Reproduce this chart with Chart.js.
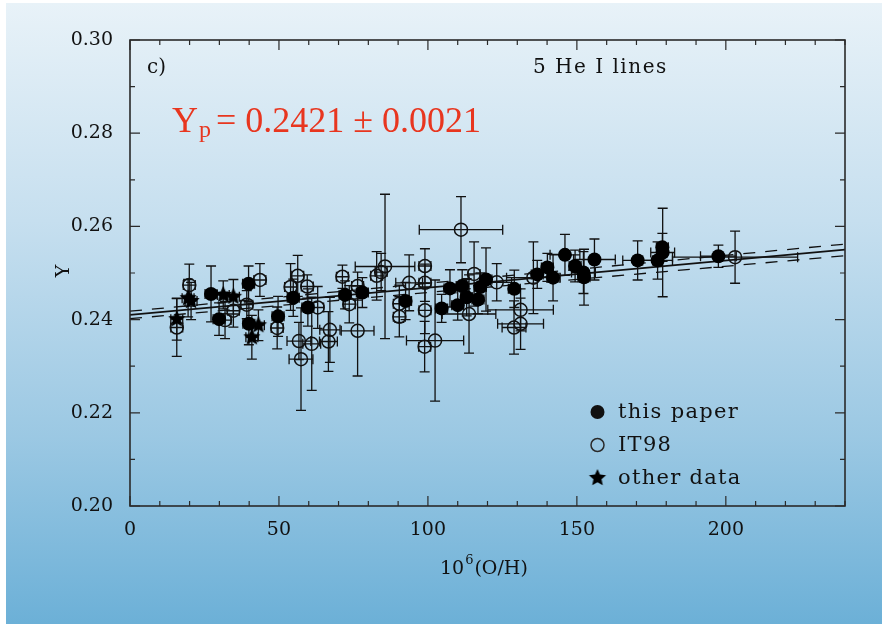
<!DOCTYPE html>
<html>
<head>
<meta charset="utf-8">
<script src="https://cdn.jsdelivr.net/npm/chart.js@4.4.1/dist/chart.umd.min.js"></script>
<style>
  html, body { margin: 0; padding: 0; background: #fff; }
  #heChart { display: block; }
</style>
</head>
<body>
<canvas id="heChart" width="882" height="624"></canvas>
<script>
// this paper
const paperX = [27.2, 29.9, 39.8, 39.9, 49.7, 54.8, 59.7, 72.2, 78.0, 92.5, 104.6, 107.4, 110.0, 111.5, 113.0, 116.8,
  117.6, 119.5, 129.0, 136.7, 140.1, 142.0, 146.0, 149.4, 152.2, 152.4, 155.9, 170.4, 177.1, 178.7, 178.8, 197.5];
const paperY = [0.2455, 0.2401, 0.2477, 0.2391, 0.2407, 0.2447, 0.2426, 0.2453, 0.2458, 0.2440, 0.2424, 0.2467, 0.2431, 0.2472, 0.2448, 0.2443,
  0.2470, 0.2486, 0.2466, 0.2497, 0.2512, 0.2490, 0.2539, 0.2515, 0.2501, 0.2491, 0.2529, 0.2527, 0.2527, 0.2555, 0.2544, 0.2536];
const paperYErr = [0.0060, 0.0035, 0.0038, 0.0045, 0.0043, 0.0040, 0.0040, 0.0030, 0.0032, 0.0040, 0.0030, 0.0040, 0.0032, 0.0035, 0.0040, 0.0030,
  0.0030, 0.0068, 0.0040, 0.0030, 0.0030, 0.0050, 0.0044, 0.0034, 0.0045, 0.0060, 0.0044, 0.0042, 0.0040, 0.0030, 0.0095, 0.0024];
const paperXErr = [2, 2, 2, 2, 2, 2, 2, 2, 2, 2, 2, 2, 2, 2, 2, 2,
  2, 2, 2, 2, 2, 2, 5, 2, 4, 2, 7, 5, 5, 2, 4, 6];

// IT98
const it98X = [15.7, 19.9, 31.9, 34.7, 39.2, 43.6, 49.4, 53.9, 56.3, 59.5, 56.7, 57.4, 61.0, 63.0, 67.1, 66.6, 71.3, 73.6, 76.4, 76.4,
  82.8, 84.3, 85.6, 90.4, 90.4, 93.7, 99.0, 99.0, 99.0, 98.9, 102.4, 111.1, 115.5, 113.8, 123.1, 131.1, 131.1, 128.9, 135.4, 203.1];
const it98Y = [0.2383, 0.2474, 0.2399, 0.2419, 0.2432, 0.2485, 0.2382, 0.2470, 0.2494, 0.2471, 0.2354, 0.2315, 0.2348, 0.2426, 0.2378, 0.2353, 0.2492, 0.2433, 0.2472, 0.2376,
  0.2494, 0.2502, 0.2514, 0.2434, 0.2406, 0.2479, 0.2515, 0.2479, 0.2420, 0.2342, 0.2355, 0.2593, 0.2498, 0.2412, 0.2480, 0.2421, 0.2391, 0.2383, 0.2490, 0.2534];
const it98YErr = [0.0062, 0.0045, 0.0040, 0.0035, 0.0030, 0.0035, 0.0045, 0.0050, 0.0044, 0.0025, 0.0040, 0.0110, 0.0100, 0.0045, 0.0070, 0.0064, 0.0025, 0.0040, 0.0030, 0.0097,
  0.0052, 0.0040, 0.0155, 0.0040, 0.0043, 0.0060, 0.0037, 0.0040, 0.0050, 0.0054, 0.0130, 0.0071, 0.0069, 0.0084, 0.0040, 0.0045, 0.0055, 0.0057, 0.0077, 0.0056];
const it98XErr = [2, 2, 2, 2, 2, 2, 2, 2, 2, 2, 4, 4, 3, 2, 3.4, 3, 2, 2, 2, 5.5,
  2, 2, 10, 2, 2, 4.5, 2, 2, 2, 2, 9.6, 14, 2, 9, 5, 11, 7.7, 4, 9, 21];

// other data
const otherX = [15.7, 19.5, 20.5, 31.3, 34.7, 40.9, 43.1];
const otherY = [0.2401, 0.2446, 0.2440, 0.2453, 0.2449, 0.2362, 0.2388];
const otherYErr = [0.0045, 0.0040, 0.0040, 0.0030, 0.0037, 0.0047, 0.0033];
const otherXErr = [2, 2, 2, 2, 2, 2, 2];

// regression lines
const fitX = [0, 240];
const fitY = [0.2410, 0.2550];
const fitUpperY = [0.2418, 0.2562];
const fitLowerY = [0.2402, 0.2537];

const xTickVals = [0, 50, 100, 150, 200];
const yTickVals = [0.20, 0.22, 0.24, 0.26, 0.28, 0.30];

const serif = "'DejaVu Serif', serif";

function toPoints(xs, ys, xe, ye) {
  return xs.map((x, i) => ({ x: x, y: ys[i], xe: xe ? xe[i] : 0, ye: ye ? ye[i] : 0 }));
}

// filled five point star used as point marker
function makeStar(r) {
  const c = document.createElement('canvas');
  const s = Math.ceil(r * 2 + 2);
  c.width = c.height = s;
  const g = c.getContext('2d');
  g.beginPath();
  for (let k = 0; k < 10; k++) {
    const rad = k % 2 ? r * 0.47 : r;
    const ang = -Math.PI / 2 + k * Math.PI / 5;
    g.lineTo(s / 2 + rad * Math.cos(ang), s / 2 + rad * Math.sin(ang));
  }
  g.closePath();
  g.fillStyle = '#000';
  g.fill();
  return c;
}
const starImg = makeStar(9);

// background: white margin and blue gradient panel
const backdrop = {
  id: 'backdrop',
  beforeDraw(chart) {
    const ctx = chart.ctx;
    ctx.save();
    ctx.fillStyle = '#fff';
    ctx.fillRect(0, 0, chart.width, chart.height);
    const g = ctx.createLinearGradient(0, 3, 0, chart.height);
    g.addColorStop(0, '#e8f2f8');
    g.addColorStop(0.35, '#c6dfef');
    g.addColorStop(0.7, '#9bc8e3');
    g.addColorStop(1, '#6cb0d7');
    ctx.fillStyle = g;
    ctx.fillRect(6, 3, chart.width - 6, chart.height - 3);
    ctx.restore();
  }
};

// x and y error bars with caps
const errorBars = {
  id: 'errorBars',
  beforeDatasetsDraw(chart) {
    const ctx = chart.ctx, xs = chart.scales.x, ys = chart.scales.y;
    ctx.save();
    ctx.strokeStyle = '#111';
    ctx.lineWidth = 1.3;
    const cap = 5;
    chart.data.datasets.forEach(ds => {
      if (!ds.errorBars) return;
      ds.data.forEach(p => {
        const px = xs.getPixelForValue(p.x), py = ys.getPixelForValue(p.y);
        ctx.beginPath();
        if (p.ye) {
          const t = ys.getPixelForValue(p.y + p.ye), b = ys.getPixelForValue(p.y - p.ye);
          ctx.moveTo(px, t); ctx.lineTo(px, b);
          ctx.moveTo(px - cap, t); ctx.lineTo(px + cap, t);
          ctx.moveTo(px - cap, b); ctx.lineTo(px + cap, b);
        }
        if (p.xe) {
          const l = xs.getPixelForValue(p.x - p.xe), r = xs.getPixelForValue(p.x + p.xe);
          ctx.moveTo(l, py); ctx.lineTo(r, py);
          ctx.moveTo(l, py - cap); ctx.lineTo(l, py + cap);
          ctx.moveTo(r, py - cap); ctx.lineTo(r, py + cap);
        }
        ctx.stroke();
      });
    });
    ctx.restore();
  }
};

// frame, inward ticks on all sides, titles, legend and annotation
const decorations = {
  id: 'decorations',
  afterDraw(chart) {
    const ctx = chart.ctx, xs = chart.scales.x, ys = chart.scales.y, a = chart.chartArea;
    ctx.save();
    ctx.strokeStyle = '#2a2a2a';
    ctx.lineWidth = 1.6;
    ctx.strokeRect(a.left, a.top, a.right - a.left, a.bottom - a.top);

    ctx.lineWidth = 1.2;
    ctx.beginPath();
    for (let v = 0; v <= 240; v += 10) {
      const p = xs.getPixelForValue(v);
      const len = v % 50 === 0 ? 10 : 5;
      ctx.moveTo(p, a.bottom); ctx.lineTo(p, a.bottom - len);
      ctx.moveTo(p, a.top); ctx.lineTo(p, a.top + len);
    }
    for (let k = 0; k <= 10; k++) {
      const p = ys.getPixelForValue(0.20 + k * 0.01);
      const len = k % 2 === 0 ? 10 : 5;
      ctx.moveTo(a.left, p); ctx.lineTo(a.left + len, p);
      ctx.moveTo(a.right, p); ctx.lineTo(a.right - len, p);
    }
    ctx.stroke();

    ctx.fillStyle = '#111';
    ctx.textBaseline = 'alphabetic';
    ctx.textAlign = 'left';

    // x title: 10^6(O/H)
    ctx.font = '19px ' + serif;
    let x0 = 440;
    ctx.fillText('10', x0, 574);
    x0 += ctx.measureText('10').width + 1;
    ctx.font = '13px ' + serif;
    ctx.fillText('6', x0, 564);
    x0 += ctx.measureText('6').width + 1;
    ctx.font = '19px ' + serif;
    ctx.fillText('(O/H)', x0, 574);

    // y title
    ctx.save();
    ctx.translate(69, 271);
    ctx.rotate(-Math.PI / 2);
    ctx.textAlign = 'center';
    ctx.fillText('Y', 0, 0);
    ctx.restore();

    // panel labels
    ctx.font = '20px ' + serif;
    ctx.fillText('c)', 147, 73);
    ctx.letterSpacing = '1.5px';
    ctx.fillText('5 He I lines', 533, 73);
    ctx.letterSpacing = '0px';

    // legend
    ctx.font = '21px ' + serif;
    ctx.letterSpacing = '1.3px';
    ctx.fillText('this paper', 618, 418);
    ctx.fillText('IT98', 618, 451);
    ctx.fillText('other data', 618, 484);
    ctx.letterSpacing = '0px';
    ctx.beginPath();
    ctx.arc(597.5, 412, 7, 0, Math.PI * 2);
    ctx.fill();
    ctx.beginPath();
    ctx.lineWidth = 1.5;
    ctx.arc(597.5, 445, 6.5, 0, Math.PI * 2);
    ctx.stroke();
    ctx.drawImage(starImg, 597.5 - starImg.width / 2, 478 - starImg.height / 2);

    // fitted primordial helium value
    ctx.fillStyle = '#e8361f';
    ctx.font = "36px 'Liberation Serif', serif";
    let rx = 172;
    ctx.fillText('Y', rx, 132);
    rx += ctx.measureText('Y').width + 1;
    ctx.font = "24px 'Liberation Serif', serif";
    ctx.fillText('p', rx, 137);
    rx += ctx.measureText('p').width + 5;
    ctx.font = "36px 'Liberation Serif', serif";
    ctx.fillText('= 0.2421 \u00b1 0.0021', rx, 132);
    ctx.restore();
  }
};

const chart = new Chart(document.getElementById('heChart'), {
  type: 'scatter',
  data: {
    datasets: [
      {
        label: 'fit',
        type: 'line',
        data: toPoints(fitX, fitY),
        borderColor: '#111',
        borderWidth: 1.7,
        pointRadius: 0,
        order: 5
      },
      {
        label: 'fit upper',
        type: 'line',
        data: toPoints(fitX, fitUpperY),
        borderColor: '#111',
        borderWidth: 1.3,
        borderDash: [12, 10],
        pointRadius: 0,
        order: 5
      },
      {
        label: 'fit lower',
        type: 'line',
        data: toPoints(fitX, fitLowerY),
        borderColor: '#111',
        borderWidth: 1.3,
        borderDash: [12, 10],
        pointRadius: 0,
        order: 5
      },
      {
        label: 'IT98',
        data: toPoints(it98X, it98Y, it98XErr, it98YErr),
        errorBars: true,
        pointStyle: 'circle',
        pointRadius: 6.5,
        borderWidth: 1.5,
        borderColor: '#111',
        backgroundColor: 'rgba(0,0,0,0)',
        order: 2
      },
      {
        label: 'other data',
        data: toPoints(otherX, otherY, otherXErr, otherYErr),
        errorBars: true,
        pointStyle: starImg,
        order: 1
      },
      {
        label: 'this paper',
        data: toPoints(paperX, paperY, paperXErr, paperYErr),
        errorBars: true,
        pointStyle: 'circle',
        pointRadius: 7,
        borderWidth: 0,
        backgroundColor: '#000',
        order: 0
      }
    ]
  },
  options: {
    responsive: false,
    animation: false,
    events: [],
    layout: { padding: { left: 0, right: 37, top: 40, bottom: 0 } },
    plugins: { legend: { display: false }, tooltip: { enabled: false } },
    scales: {
      x: {
        type: 'linear',
        min: 0,
        max: 240,
        afterBuildTicks: s => { s.ticks = xTickVals.map(v => ({ value: v })); },
        afterFit: s => { s.height = 118; },
        grid: { display: false },
        border: { display: false },
        ticks: {
          color: '#111',
          font: { family: serif, size: 19 },
          padding: 5,
          maxRotation: 0,
          autoSkip: false
        }
      },
      y: {
        type: 'linear',
        min: 0.20,
        max: 0.30,
        afterBuildTicks: s => { s.ticks = yTickVals.map(v => ({ value: v })); },
        afterFit: s => { s.width = 130; },
        grid: { display: false },
        border: { display: false },
        ticks: {
          color: '#111',
          font: { family: serif, size: 19 },
          padding: 9,
          callback: v => v.toFixed(2)
        }
      }
    }
  },
  plugins: [backdrop, errorBars, decorations]
});
</script>
</body>
</html>
